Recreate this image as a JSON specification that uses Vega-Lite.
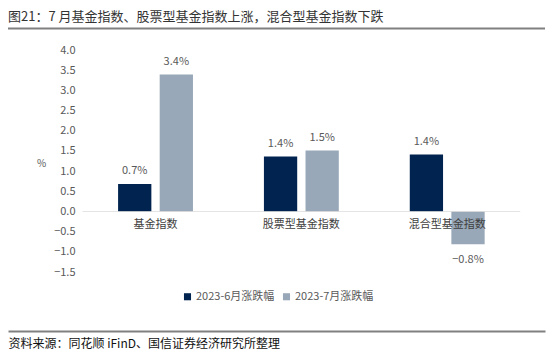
{
  "$schema": "https://vega.github.io/schema/vega-lite/v6.json",
  "autosize": "none",
  "width": 537,
  "height": 222,
  "padding": {"left": 8, "top": 50, "right": 5, "bottom": 85},
  "background": "white",
  "config": {
    "view": {"stroke": null},
    "font": "Noto Sans CJK SC"
  },
  "title": {
    "text": "图21：7 月基金指数、股票型基金指数上涨，混合型基金指数下跌",
    "anchor": "start",
    "frame": "group",
    "fontSize": 13,
    "fontWeight": "normal",
    "color": "#333333",
    "font": "Noto Sans CJK SC",
    "offset": 4
  },
  "data": {
    "values": [
      {"cat": "基金指数", "series": "2023-6月涨跌幅", "value": 0.68},
      {"cat": "基金指数", "series": "2023-7月涨跌幅", "value": 3.39},
      {"cat": "股票型基金指数", "series": "2023-6月涨跌幅", "value": 1.36},
      {"cat": "股票型基金指数", "series": "2023-7月涨跌幅", "value": 1.51},
      {"cat": "混合型基金指数", "series": "2023-6月涨跌幅", "value": 1.41},
      {"cat": "混合型基金指数", "series": "2023-7月涨跌幅", "value": -0.81}
    ]
  },
  "transform": [
    {"calculate": "format(datum.value, '.1f') + '%'", "as": "label"}
  ],
  "layer": [
    {
      "mark": {"type": "bar"},
      "encoding": {
        "x": {
          "field": "cat", "type": "nominal", "sort": null,
          "scale": {"paddingInner": 0, "paddingOuter": 0.341, "align": 0.75},
          "axis": {"orient": "bottom", "offset": 59, "domain": true, "domainColor": "#808080", "domainWidth": 2, "labels": false, "ticks": false, "grid": false, "title": "资料来源：同花顺 iFinD、国信证券经济研究所整理", "titleAnchor": "start", "titleAlign": "left", "titleBaseline": "top", "titleX": 0, "titleY": 7, "titleFontSize": 12, "titleFontWeight": "normal", "titleColor": "#111111"}
        },
        "xOffset": {
          "field": "series", "type": "nominal",
          "scale": {"paddingInner": 0.2, "paddingOuter": 0.853}
        },
        "y": {
          "field": "value", "type": "quantitative",
          "scale": {"domain": [-1.5, 4.0], "nice": false, "zero": false},
          "axis": {"orient": "left", "offset": -69, "domain": false, "ticks": false, "grid": false, "labelPadding": 2, "labelOverlap": false, "values": [-1.5, -1.0, -0.5, 0.0, 0.5, 1.0, 1.5, 2.0, 2.5, 3.0, 3.5, 4.0], "format": ".1f", "labelFontSize": 11, "labelColor": "#595959", "title": "%", "titleAngle": 0, "titleX": -36, "titleY": 113, "titleAlign": "center", "titleBaseline": "middle", "titleFontSize": 10, "titleFontWeight": "normal", "titleColor": "#595959"}
        },
        "color": {
          "field": "series", "type": "nominal",
          "scale": {"range": ["#00234f", "#98a8b8"]},
          "legend": {
            "title": null, "orient": "none", "direction": "horizontal",
            "legendX": 174, "legendY": 241,
            "symbolType": "square", "symbolSize": 50, "symbolStrokeWidth": 0,
            "labelFontSize": 11, "labelColor": "#595959", "columnPadding": 6,
            "labelOffset": 3
          }
        }
      }
    },
    {
      "mark": {"type": "tick", "size": 146, "thickness": 1, "color": "#d9d9d9"},
      "transform": [{"filter": "datum.series === '2023-6月涨跌幅'"}],
      "encoding": {
        "x": {
          "field": "cat", "type": "nominal", "sort": null,
          "axis": {"orient": "bottom", "offset": 59, "domain": true, "domainColor": "#808080", "domainWidth": 2, "labels": false, "ticks": false, "grid": false, "title": "资料来源：同花顺 iFinD、国信证券经济研究所整理", "titleAnchor": "start", "titleAlign": "left", "titleBaseline": "top", "titleX": 0, "titleY": 7, "titleFontSize": 12, "titleFontWeight": "normal", "titleColor": "#111111"}
        },
        "y": {
          "datum": 0, "type": "quantitative",
          "axis": {"orient": "left", "offset": -69, "domain": false, "ticks": false, "grid": false, "labelPadding": 2, "labelOverlap": false, "values": [-1.5, -1.0, -0.5, 0.0, 0.5, 1.0, 1.5, 2.0, 2.5, 3.0, 3.5, 4.0], "format": ".1f", "labelFontSize": 11, "labelColor": "#595959", "title": "%", "titleAngle": 0, "titleX": -36, "titleY": 113, "titleAlign": "center", "titleBaseline": "middle", "titleFontSize": 10, "titleFontWeight": "normal", "titleColor": "#595959"}
        }
      }
    },
    {
      "mark": {"type": "rule", "color": "#808080", "strokeWidth": 2},
      "transform": [{"filter": "datum.series === '2023-6月涨跌幅' && datum.cat === '基金指数'"}],
      "encoding": {
        "y": {
          "datum": 4.53, "type": "quantitative",
          "axis": {"orient": "left", "offset": -69, "domain": false, "ticks": false, "grid": false, "labelPadding": 2, "labelOverlap": false, "values": [-1.5, -1.0, -0.5, 0.0, 0.5, 1.0, 1.5, 2.0, 2.5, 3.0, 3.5, 4.0], "format": ".1f", "labelFontSize": 11, "labelColor": "#595959", "title": "%", "titleAngle": 0, "titleX": -36, "titleY": 113, "titleAlign": "center", "titleBaseline": "middle", "titleFontSize": 10, "titleFontWeight": "normal", "titleColor": "#595959"}
        }
      }
    },
    {
      "mark": {"type": "text", "dy": 14, "fontSize": 11, "color": "#404040", "baseline": "middle"},
      "transform": [{"filter": "datum.series === '2023-6月涨跌幅'"}],
      "encoding": {
        "x": {
          "field": "cat", "type": "nominal", "sort": null,
          "axis": {"orient": "bottom", "offset": 59, "domain": true, "domainColor": "#808080", "domainWidth": 2, "labels": false, "ticks": false, "grid": false, "title": "资料来源：同花顺 iFinD、国信证券经济研究所整理", "titleAnchor": "start", "titleAlign": "left", "titleBaseline": "top", "titleX": 0, "titleY": 7, "titleFontSize": 12, "titleFontWeight": "normal", "titleColor": "#111111"}
        },
        "y": {
          "datum": 0, "type": "quantitative",
          "axis": {"orient": "left", "offset": -69, "domain": false, "ticks": false, "grid": false, "labelPadding": 2, "labelOverlap": false, "values": [-1.5, -1.0, -0.5, 0.0, 0.5, 1.0, 1.5, 2.0, 2.5, 3.0, 3.5, 4.0], "format": ".1f", "labelFontSize": 11, "labelColor": "#595959", "title": "%", "titleAngle": 0, "titleX": -36, "titleY": 113, "titleAlign": "center", "titleBaseline": "middle", "titleFontSize": 10, "titleFontWeight": "normal", "titleColor": "#595959"}
        },
        "text": {"field": "cat"}
      }
    },
    {
      "mark": {"type": "text", "dy": -8, "fontSize": 11, "color": "#595959", "baseline": "bottom"},
      "transform": [{"filter": "datum.value >= 0"}],
      "encoding": {
        "x": {
          "field": "cat", "type": "nominal", "sort": null,
          "axis": {"orient": "bottom", "offset": 59, "domain": true, "domainColor": "#808080", "domainWidth": 2, "labels": false, "ticks": false, "grid": false, "title": "资料来源：同花顺 iFinD、国信证券经济研究所整理", "titleAnchor": "start", "titleAlign": "left", "titleBaseline": "top", "titleX": 0, "titleY": 7, "titleFontSize": 12, "titleFontWeight": "normal", "titleColor": "#111111"}
        },
        "xOffset": {"field": "series", "type": "nominal"},
        "y": {
          "field": "value", "type": "quantitative",
          "axis": {"orient": "left", "offset": -69, "domain": false, "ticks": false, "grid": false, "labelPadding": 2, "labelOverlap": false, "values": [-1.5, -1.0, -0.5, 0.0, 0.5, 1.0, 1.5, 2.0, 2.5, 3.0, 3.5, 4.0], "format": ".1f", "labelFontSize": 11, "labelColor": "#595959", "title": "%", "titleAngle": 0, "titleX": -36, "titleY": 113, "titleAlign": "center", "titleBaseline": "middle", "titleFontSize": 10, "titleFontWeight": "normal", "titleColor": "#595959"}
        },
        "text": {"field": "label"}
      }
    },
    {
      "mark": {"type": "text", "dy": 10, "fontSize": 11, "color": "#595959", "baseline": "top"},
      "transform": [{"filter": "datum.value < 0"}],
      "encoding": {
        "x": {
          "field": "cat", "type": "nominal", "sort": null,
          "axis": {"orient": "bottom", "offset": 59, "domain": true, "domainColor": "#808080", "domainWidth": 2, "labels": false, "ticks": false, "grid": false, "title": "资料来源：同花顺 iFinD、国信证券经济研究所整理", "titleAnchor": "start", "titleAlign": "left", "titleBaseline": "top", "titleX": 0, "titleY": 7, "titleFontSize": 12, "titleFontWeight": "normal", "titleColor": "#111111"}
        },
        "xOffset": {"field": "series", "type": "nominal"},
        "y": {
          "field": "value", "type": "quantitative",
          "axis": {"orient": "left", "offset": -69, "domain": false, "ticks": false, "grid": false, "labelPadding": 2, "labelOverlap": false, "values": [-1.5, -1.0, -0.5, 0.0, 0.5, 1.0, 1.5, 2.0, 2.5, 3.0, 3.5, 4.0], "format": ".1f", "labelFontSize": 11, "labelColor": "#595959", "title": "%", "titleAngle": 0, "titleX": -36, "titleY": 113, "titleAlign": "center", "titleBaseline": "middle", "titleFontSize": 10, "titleFontWeight": "normal", "titleColor": "#595959"}
        },
        "text": {"field": "label"}
      }
    }
  ]
}
